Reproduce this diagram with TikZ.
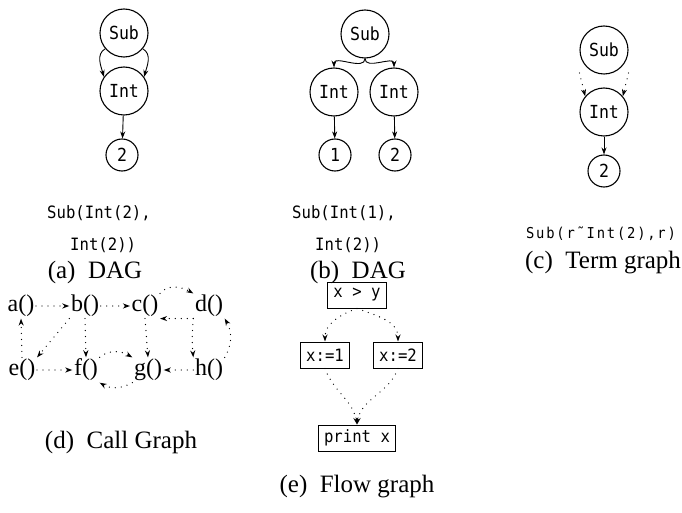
\documentclass[tikz,border=0pt]{standalone}
\usepackage{fontspec}
\setmainfont{Liberation Serif}
\setmonofont[FakeStretch=0.92]{DejaVu Sans Mono}
\usetikzlibrary{arrows.meta}
\begin{document}
\begin{tikzpicture}[x=1pt,y=-1pt,
  circ/.style={draw,circle,line width=1.1pt,minimum size=48pt,inner sep=0pt,font=\fontsize{18}{18}\ttfamily},
  leaf/.style={circ,minimum size=32pt},
  arr/.style={-{Stealth[length=7pt,width=5pt]},line width=0.9pt},
  dotl/.style={line width=1.3pt,line cap=round,dash pattern=on 0pt off 6pt},
  darr/.style={dotl,-{Stealth[length=7pt,width=5pt]}},
  capt/.style={font=\fontsize{25}{25}\selectfont},
  code/.style={anchor=west,inner sep=0pt,font=\fontsize{17}{17}\ttfamily},
  cg/.style={inner sep=1.5pt,font=\fontsize{24}{24}\selectfont},
  fbox/.style={draw,line width=1pt,inner xsep=6pt,inner ysep=0pt,minimum height=26pt,font=\fontsize{17}{17}\ttfamily}]
\useasboundingbox (0,0) rectangle (682,513);
% (a)
\node[circ] (asub) at (124,33) {Sub};
\node[circ] (aint) at (124,91) {Int};
\node[leaf] (atwo) at (122,155) {2};
\draw[arr] (asub.220) to[out=210,in=105] (aint.145);
\draw[arr] (asub.-40) to[out=-30,in=75] (aint.35);
\draw[arr] (aint) -- (atwo);
\node[code] (acode1) at (47,213) {Sub(Int(2),};
\node[code] (acode2) at (70,245) {Int(2))};
\node[capt] (acap) at (95,272) {(a)\enspace DAG};
% (b)
\node[circ] (bsub) at (365,34) {Sub};
\node[circ] (bint1) at (334,92) {Int};
\node[circ] (bint2) at (394,92) {Int};
\node[leaf] (bone) at (335,155) {1};
\node[leaf] (btwo) at (395,155) {2};
\draw[arr] (bsub.south) to[out=-90,in=90] (bint1.north);
\draw[arr] (bsub.south) to[out=-90,in=90] (bint2.north);
\draw[arr] (bint1) -- (bone);
\draw[arr] (bint2) -- (btwo);
\node[code] (bcode1) at (292,213) {Sub(Int(1),};
\node[code] (bcode2) at (315,245) {Int(2))};
\node[capt] (bcap) at (358,272) {(b)\enspace DAG};
% (c)
\node[circ] (csub) at (604,50) {Sub};
\node[circ] (cint) at (604,112) {Int};
\node[leaf] (ctwo) at (604,171) {2};
\draw[darr] ([yshift=-23pt]csub.west) -- (cint.140);
\draw[darr] ([yshift=-23pt]csub.east) -- (cint.40);
\draw[arr] (cint) -- (ctwo);
\node[inner sep=0pt,font=\fontsize{15}{15}\ttfamily\addfontfeature{LetterSpace=12}] (ccode) at (601,234) {Sub(r\char"02DC Int(2),r)};
\node[capt] (ccap) at (603,263) {(c)\enspace Term graph};
% (d) call graph
\node[cg] (a) at (21,306) {a()};
\node[cg] (b) at (85,306) {b()};
\node[cg] (c) at (145,306) {c()};
\node[cg] (d) at (209,306) {d()};
\node[cg] (e) at (22,370) {e()};
\node[cg] (f) at (86,370) {f()};
\node[cg] (g) at (148,370) {g()};
\node[cg] (h) at (209,370) {h()};
\draw[darr] (a) -- (b);
\draw[darr] (b) -- (c);
\draw[darr] (c.north east) to[out=50,in=150] (d.north west);
\draw[darr] (d.south west) -- (c.south east);
\draw[darr] (d.south west) to[out=-95,in=95] (h.north west);
\draw[darr] (h.north east) to[out=60,in=-60] (d.south east);
\draw[darr] (e.north) -- (a.south);
\draw[darr] (b.south west) -- (e.north east);
\draw[darr] (b.south) -- (f.north);
\draw[darr] (c.south) -- (g.north);
\draw[darr] (e) -- (f);
\draw[darr] (h) -- (g);
\draw[darr] (f.north east) to[out=40,in=150] (g.north west);
\draw[darr] (g.south west) to[out=-150,in=-30] (f.south east);
\node[capt] (dcap) at (121,442) {(d)\enspace Call Graph};
% (e) flow graph
\node[fbox] (xy) at (357,295) {x > y};
\node[fbox] (x1) at (325,355) {x:=1};
\node[fbox] (x2) at (398,355) {x:=2};
\node[fbox] (px) at (357,438) {print x};
\draw[darr] (xy.south) to[out=-160,in=90] (x1.north);
\draw[darr] (xy.south) to[out=-20,in=90] (x2.north);
\draw[darr] (x1.south) to[out=-70,in=100] (px.north);
\draw[darr] (x2.south) to[out=-110,in=80] (px.north);
\node[capt] (ecap) at (357,487) {(e)\enspace Flow graph};
\end{tikzpicture}
\end{document}
